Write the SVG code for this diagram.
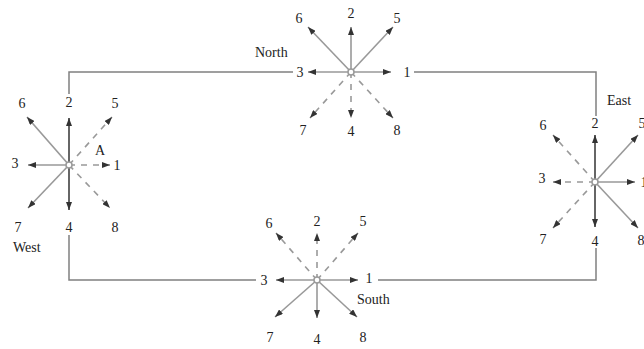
<svg xmlns="http://www.w3.org/2000/svg" width="644" height="349" viewBox="0 0 644 349">
<style>
text{font-family:"Liberation Serif","Times New Roman",serif;font-size:14px;fill:#222;text-anchor:middle;dominant-baseline:central}
.lbl{text-anchor:start}
.s{stroke:#999;stroke-width:1.6;fill:none;marker-end:url(#ah)}
.d{stroke:#999;stroke-width:1.6;fill:none;stroke-dasharray:6,6;marker-end:url(#ah)}
.k{stroke:#666;stroke-width:2;fill:none;marker-end:url(#ah)}
.w{stroke:#808080;stroke-width:1.5;fill:none}
.c{fill:#fff;stroke:#999;stroke-width:1.5}
</style>
<defs>
<marker id="ah" viewBox="0 0 8 6" refX="8" refY="3" markerWidth="8" markerHeight="6" markerUnits="userSpaceOnUse" orient="auto">
<path d="M0,0 L8,3 L0,6 z" fill="#333"/>
</marker>
</defs>
<g id="connectors">
<path class="w" d="M69,94 V72 H293"/>
<path class="w" d="M414,72 H596 V116"/>
<path class="w" d="M596,248 V280 H378"/>
<path class="w" d="M256,280 H69 V235"/>
</g>
<g id="west" transform="translate(69,165)">
<line class="s" x1="0" y1="0" x2="-42" y2="-48"/>
<line class="d" x1="0" y1="0" x2="43" y2="-48"/>
<line class="s" x1="0" y1="0" x2="-41" y2="0"/>
<line class="d" x1="0" y1="0" x2="41" y2="0"/>
<line class="s" x1="0" y1="0" x2="-41" y2="43"/>
<line class="d" x1="0" y1="0" x2="41" y2="43"/>
<line class="k" x1="0" y1="0" x2="0" y2="-47"/>
<line class="k" x1="0" y1="0" x2="0" y2="45"/>
<circle class="c" r="3"/>
<text x="-47" y="-62">6</text><text x="0" y="-63">2</text><text x="46" y="-62">5</text>
<text x="-54" y="-2">3</text><text x="48" y="0">1</text><text x="31" y="-15">A</text>
<text x="-51" y="62">7</text><text x="0" y="62">4</text><text x="46" y="62">8</text>
<text class="lbl" x="-56" y="82">West</text>
</g>
<g id="north" transform="translate(351,72)">
<line class="s" x1="0" y1="0" x2="-43" y2="-45"/>
<line class="s" x1="0" y1="0" x2="0" y2="-45"/>
<line class="s" x1="0" y1="0" x2="42" y2="-45"/>
<line class="s" x1="0" y1="0" x2="-43" y2="0"/>
<line class="s" x1="0" y1="0" x2="40" y2="0"/>
<line class="d" x1="0" y1="0" x2="-41" y2="46"/>
<line class="d" x1="0" y1="0" x2="0" y2="46"/>
<line class="d" x1="0" y1="0" x2="42" y2="46"/>
<circle class="c" r="3"/>
<text x="-52" y="-54">6</text><text x="0" y="-59">2</text><text x="46" y="-54">5</text>
<text x="-51" y="0">3</text><text x="56" y="0">1</text>
<text x="-48" y="58">7</text><text x="0" y="59">4</text><text x="46" y="58">8</text>
<text class="lbl" x="-96" y="-20">North</text>
</g>
<g id="east" transform="translate(595,182)">
<line class="d" x1="0" y1="0" x2="-42" y2="-47"/>
<line class="s" x1="0" y1="0" x2="43" y2="-47"/>
<line class="d" x1="0" y1="0" x2="-42" y2="0"/>
<line class="s" x1="0" y1="0" x2="40" y2="0"/>
<line class="d" x1="0" y1="0" x2="-42" y2="46"/>
<line class="s" x1="0" y1="0" x2="43" y2="46"/>
<line class="k" x1="0" y1="0" x2="0" y2="-47"/>
<line class="k" x1="0" y1="0" x2="0" y2="45"/>
<circle class="c" r="3"/>
<text x="-52" y="-57">6</text><text x="0" y="-59">2</text><text x="47" y="-59">5</text>
<text x="-53" y="-4">3</text><text x="49" y="0">1</text>
<text x="-52" y="57">7</text><text x="0" y="59">4</text><text x="46" y="58">8</text>
<text class="lbl" x="12" y="-82">East</text>
</g>
<g id="south" transform="translate(317,280)">
<line class="d" x1="0" y1="0" x2="-41" y2="-47"/>
<line class="d" x1="0" y1="0" x2="0" y2="-47"/>
<line class="d" x1="0" y1="0" x2="41" y2="-47"/>
<line class="s" x1="0" y1="0" x2="-41" y2="0"/>
<line class="s" x1="0" y1="0" x2="41" y2="0"/>
<line class="s" x1="0" y1="0" x2="-42" y2="37"/>
<line class="s" x1="0" y1="0" x2="0" y2="38"/>
<line class="s" x1="0" y1="0" x2="40" y2="37"/>
<circle class="c" r="3"/>
<text x="-48" y="-57">6</text><text x="0" y="-59">2</text><text x="46" y="-59">5</text>
<text x="-53" y="0">3</text><text x="52" y="-2">1</text>
<text x="-47" y="57">7</text><text x="0" y="59">4</text><text x="46" y="57">8</text>
<text class="lbl" x="40" y="19">South</text>
</g>
</svg>
